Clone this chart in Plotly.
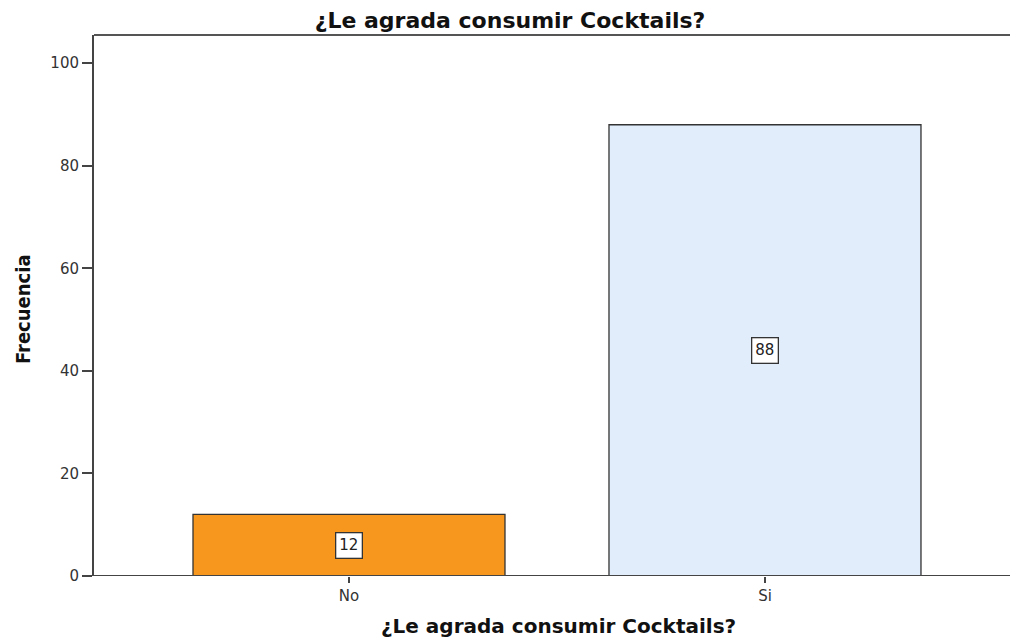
import plotly.graph_objects as go

categories = ["No", "Si"]
values = [12, 88]
colors = ["#F7971E", "#E1EDFA"]
y_ticks = [0, 20, 40, 60, 80, 100]
title_text = "¿Le agrada consumir Cocktails?"
x_title = "¿Le agrada consumir Cocktails?"
y_title = "Frecuencia"

PW, PH, L, T = 916, 541, 94, 35

fig = go.Figure()
fig.add_trace(go.Bar(
    x=categories, y=values, width=0.75,
    marker=dict(color=colors, line=dict(color="#333333", width=1.3)),
    showlegend=False, hoverinfo="skip",
))

for c, v in zip(categories, values):
    fig.add_annotation(
        x=c, y=v / 2, text=str(v), showarrow=False,
        font=dict(family="DejaVu Sans", size=15, color="#222222"),
        bgcolor="white", bordercolor="#333333", borderwidth=1.3, borderpad=3,
    )

# y-axis title
fig.add_annotation(
    xref="paper", yref="paper", x=(23 - L) / PW, y=(576 - 309) / PH,
    text=f"<b>{y_title}</b>", textangle=-90, showarrow=False,
    xanchor="center", yanchor="middle",
    font=dict(family="DejaVu Sans Condensed, DejaVu Sans", size=20, color="#111111"),
)

# x-axis title
fig.add_annotation(
    xref="paper", yref="paper", x=(558 - L) / PW, y=-(626 - 576) / PH,
    text=f"<b>{x_title}</b>", showarrow=False, xanchor="center", yanchor="middle",
    font=dict(family="DejaVu Sans", size=20, color="#111111"),
)

fig.update_layout(
    width=1010, height=639,
    paper_bgcolor="white", plot_bgcolor="white",
    margin=dict(l=L, r=0, t=T, b=63),
    title=dict(text=f"<b>{title_text}</b>", x=510 / 1010, xanchor="center",
               y=1 - 20 / 639, yanchor="middle",
               font=dict(family="DejaVu Sans", size=22, color="#111111")),
    xaxis=dict(
        range=[-0.613, 1.589], showgrid=False, zeroline=False,
        showline=False, ticks="outside", ticklen=6, tickwidth=1.5, tickcolor="#444444",
        tickfont=dict(family="DejaVu Sans", size=15, color="#333333"),
    ),
    yaxis=dict(
        range=[0, 105.5], tickvals=y_ticks, showgrid=False, zeroline=False,
        showline=True, linecolor="#444444", linewidth=2, mirror=False,
        ticks="outside", ticklen=10, tickwidth=1.5, tickcolor="#444444",
        tickfont=dict(family="DejaVu Sans", size=15, color="#333333"),
    ),
    shapes=[
        dict(type="line", xref="paper", yref="paper", x0=0, x1=1, y0=1, y1=1,
             line=dict(color="#555555", width=2)),
        dict(type="line", xref="paper", yref="y", x0=0, x1=1, y0=0, y1=0,
             line=dict(color="#444444", width=2), layer="above"),
    ],
)

fig.write_html("out.html")
